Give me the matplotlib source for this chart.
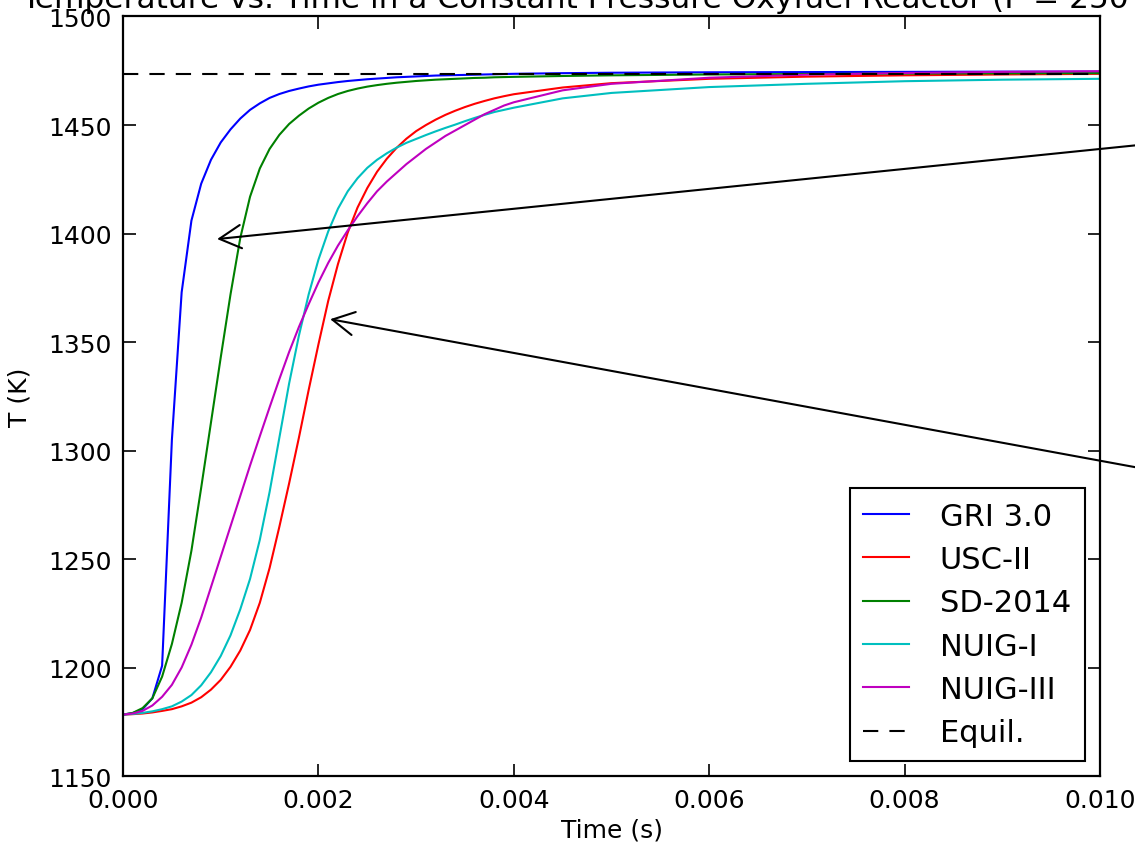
import matplotlib
matplotlib.use('Agg')
import matplotlib.pyplot as plt

# ---------------- data (time in ms, temperature in K) ----------------
time_ms = [0.0, 0.1, 0.2, 0.3, 0.4, 0.5, 0.6, 0.7, 0.8, 0.9,
           1.0, 1.1, 1.2, 1.3, 1.4, 1.5, 1.6, 1.7, 1.8, 1.9,
           2.0, 2.1, 2.2, 2.3, 2.4, 2.5, 2.6, 2.7, 2.8, 2.9,
           3.0, 3.1, 3.2, 3.3, 3.4, 3.5, 3.6, 3.7, 3.8, 3.9,
           4.0, 4.5, 5.0, 6.0, 7.0, 8.0, 9.0, 10.0]

gri30 = [1178.5, 1179.2, 1181.0, 1186.0, 1201.0, 1305.0, 1373.0, 1406.0, 1423.0, 1434.0,
         1442.0, 1448.0, 1453.0, 1457.0, 1460.0, 1462.5, 1464.3, 1465.7, 1466.8, 1467.8,
         1468.6, 1469.2, 1469.8, 1470.3, 1470.7, 1471.1, 1471.4, 1471.7, 1472.0, 1472.2,
         1472.4, 1472.6, 1472.8, 1472.9, 1473.0, 1473.1, 1473.2, 1473.3, 1473.4, 1473.5,
         1473.6, 1473.9, 1474.1, 1474.3, 1474.4, 1474.5, 1474.6, 1474.6]

usc2 = [1178.5, 1178.7, 1179.0, 1179.5, 1180.2, 1181.0, 1182.3, 1184.0, 1186.5, 1190.0,
        1194.5, 1200.5, 1208.0, 1217.5, 1230.0, 1246.0, 1265.0, 1285.0, 1306.0, 1328.0,
        1349.0, 1369.0, 1386.0, 1400.5, 1412.0, 1421.0, 1428.5, 1434.5, 1439.5, 1443.7,
        1447.2, 1450.0, 1452.5, 1454.7, 1456.6, 1458.3, 1459.8, 1461.1, 1462.3, 1463.3,
        1464.2, 1467.3, 1469.3, 1471.3, 1472.3, 1472.9, 1473.3, 1473.6]

sd2014 = [1178.5, 1179.3, 1181.5, 1186.0, 1196.0, 1211.0, 1230.0, 1254.0, 1283.0, 1313.0,
          1343.0, 1372.0, 1398.0, 1417.0, 1430.0, 1439.0, 1445.5, 1450.5, 1454.3, 1457.6,
          1460.3, 1462.5, 1464.3, 1465.7, 1466.8, 1467.7, 1468.4, 1469.0, 1469.5, 1469.9,
          1470.3, 1470.6, 1470.9, 1471.1, 1471.3, 1471.5, 1471.7, 1471.8, 1472.0, 1472.1,
          1472.2, 1472.6, 1472.9, 1473.3, 1473.5, 1473.7, 1473.8, 1473.9]

nuig1 = [1178.5, 1178.8, 1179.3, 1180.0, 1181.0, 1182.3, 1184.5, 1187.5, 1192.0, 1198.0,
         1205.5, 1215.0, 1227.0, 1241.0, 1259.0, 1281.0, 1306.0, 1331.0, 1353.0, 1372.0,
         1388.0, 1401.0, 1411.5, 1419.5, 1425.5, 1430.3, 1434.0, 1437.0, 1439.6, 1441.8,
         1443.6, 1445.4, 1447.1, 1448.7, 1450.2, 1451.8, 1453.3, 1454.7, 1456.0, 1457.0,
         1458.0, 1462.3, 1464.8, 1467.5, 1469.0, 1470.2, 1470.9, 1471.3]

nuig3 = [1178.5, 1179.0, 1180.2, 1182.7, 1186.7, 1192.2, 1200.2, 1210.7, 1223.2, 1237.2,
         1251.2, 1265.2, 1279.2, 1293.2, 1306.7, 1320.0, 1333.0, 1345.5, 1357.0, 1367.5,
         1377.5, 1386.5, 1394.5, 1401.5, 1408.0, 1414.0, 1419.5, 1424.0, 1428.0, 1432.0,
         1435.5, 1439.0, 1442.0, 1445.0, 1447.5, 1450.0, 1452.5, 1455.0, 1457.0, 1459.0,
         1460.5, 1466.0, 1469.0, 1471.8, 1473.2, 1474.0, 1474.5, 1474.8]

T_equil = 1473.7

series_values = [gri30, usc2, sd2014, nuig1, nuig3]
series_labels = ['GRI 3.0', 'USC-II', 'SD-2014', 'NUIG-I', 'NUIG-III']
series_colors = ['b', 'r', 'g', 'c', 'm']
equil_label = 'Equil.'

x_ticks = [0.000, 0.002, 0.004, 0.006, 0.008, 0.010]
x_tick_labels = ['0.000', '0.002', '0.004', '0.006', '0.008', '0.010']
y_ticks = [1150, 1200, 1250, 1300, 1350, 1400, 1450, 1500]

title = 'Temperature vs. Time in a Constant Pressure Oxyfuel Reactor (P = 250 bar)'
x_label = 'Time (s)'
y_label = 'T (K)'

# ---------------- figure ----------------
plt.rcParams['font.family'] = ['DejaVu Sans']
plt.rcParams['lines.scale_dashes'] = False

fig = plt.figure(figsize=(11.35, 8.45), dpi=100)
ax = fig.add_axes([0.1084, 0.0799, 0.8608, 0.8994])

time_s = [t / 1000.0 for t in time_ms]
for vals, lab, col in zip(series_values, series_labels, series_colors):
    ax.plot(time_s, vals, color=col, lw=1.5, label=lab)
ax.axhline(T_equil, color='k', lw=1.5, dashes=(11, 8), label=equil_label)

ax.set_xlim(0, 0.010)
ax.set_ylim(1150, 1500)
ax.set_xticks(x_ticks)
ax.set_xticklabels(x_tick_labels)
ax.set_yticks(y_ticks)

ax.tick_params(direction='in', top=True, right=True, length=9, width=1.2,
               labelsize=18, colors='k')
ax.tick_params(axis='x', pad=8)
ax.tick_params(axis='y', pad=8)
for sp in ax.spines.values():
    sp.set_linewidth(1.6)
    sp.set_color('k')

ax.set_xlabel(x_label, fontsize=18, labelpad=4)
ax.set_ylabel(y_label, fontsize=18, labelpad=12)
ax.set_title(title, fontsize=22.5, pad=7)

leg = ax.legend(loc='lower right', fontsize=22, handlelength=1.5,
                handletextpad=1.0, labelspacing=0.47, fancybox=False,
                framealpha=1, edgecolor='k', borderaxespad=0.5, borderpad=0.45)
leg.get_frame().set_linewidth(1.5)

arrow_style = dict(arrowstyle='->,head_length=0.65,head_width=0.35', lw=1.5,
                   color='k', mutation_scale=24, shrinkA=0, shrinkB=0)
ax.annotate('', xy=(0.000963, 1397.5), xytext=(0.0112, 1444.5),
            arrowprops=arrow_style, annotation_clip=False)
ax.annotate('', xy=(0.00212, 1360.6), xytext=(0.0112, 1285.5),
            arrowprops=arrow_style, annotation_clip=False)

fig.savefig('out.png', dpi=100)
